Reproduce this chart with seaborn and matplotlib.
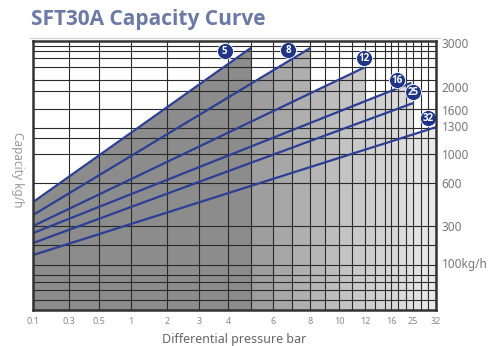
import numpy as np
import pandas as pd
import matplotlib
matplotlib.use("Agg")
import matplotlib.pyplot as plt
import matplotlib.transforms as mtransforms
import seaborn as sns

# capacity lines (one per valve size): value at 0.1 bar and at the max pressure
sizes = ["5", "8", "12", "16", "25", "32"]
max_pressure = [5, 8, 12, 24, 25, 32]
cap_start = [467, 377, 300, 262, 208, 143]
cap_end = [2886, 2886, 2455, 2091, 1722, 1289]

x_ticks = [0.1, 0.3, 0.5, 1, 2, 3, 4, 6, 8, 10, 12, 16, 25, 32]
x_labels = ["0.1", "0.3", "0.5", "1", "2", "3", "4", "6", "8", "10", "12", "16", "25", "32"]
x_minor = [5, 7, 9, 11, 13.5, 15, 19, 22, 27.5, 29.5]
y_ticks = [3000, 2000, 1600, 1300, 1000, 600, 300, 100]
y_labels = ["3000", "2000", "1600", "1300", "1000", "600", "300", "100kg/h"]
y_grid = [2930, 2820, 2660, 2450, 2160, 1930, 1620, 1280, 1170, 1000,
          600, 300, 200, 95, 75, 60, 43, 21]

# the chart's nonuniform axes (relative spacing of the printed grid)
x_nodes = [0.1, 0.3, 0.5, 1, 2, 3, 4, 6, 8, 10, 12, 16, 25, 32]
x_space = [0, 36, 66, 98, 134, 166, 195, 240, 277, 306, 332, 358, 380, 403]
y_nodes = [0, 100, 300, 600, 1000, 1300, 1600, 2000, 3000, 3045]
y_space = [0, 47, 84, 127, 156, 184, 200, 223, 267, 269]

LINE = "#2c3f96"
BADGE = "#1d348a"


def make_interp(xp, fp):
    xp = np.asarray(xp, float)
    fp = np.asarray(fp, float)
    s0 = (fp[1] - fp[0]) / (xp[1] - xp[0])
    s1 = (fp[-1] - fp[-2]) / (xp[-1] - xp[-2])

    def f(v):
        v = np.asarray(v, float)
        out = np.interp(v, xp, fp)
        out = np.where(v < xp[0], fp[0] + (v - xp[0]) * s0, out)
        out = np.where(v > xp[-1], fp[-1] + (v - xp[-1]) * s1, out)
        return out
    return f


fx, ix = make_interp(x_nodes, x_space), make_interp(x_space, x_nodes)
fy, iy = make_interp(y_nodes, y_space), make_interp(y_space, y_nodes)


def line_value(i, x):
    # lines are straight on the printed grid
    p0, p1 = fx(0.1), fx(max_pressure[i])
    q0, q1 = fy(cap_start[i]), fy(cap_end[i])
    return float(iy(q0 + (fx(x) - p0) / (p1 - p0) * (q1 - q0)))


df = pd.DataFrame({
    "pressure": [0.1] * len(sizes) + max_pressure,
    "capacity": cap_start + cap_end,
    "size": sizes * 2,
})

sns.set_style("white")
plt.rcParams["font.family"] = ["Noto Sans", "DejaVu Sans"]

fig = plt.figure(figsize=(5, 3.46), dpi=100)
ax = fig.add_axes([0.066, 0.104, 0.806, 0.777])
ax.set_xscale("function", functions=(fx, ix))
ax.set_yscale("function", functions=(fy, iy))

# gray shading under the envelope, getting lighter to the right
edges = sorted(set([0.1, 32] + x_ticks + x_minor + max_pressure))
p5, p32 = float(fx(5)), float(fx(32))
for a, b in zip(edges[:-1], edges[1:]):
    active = [i for i in range(len(sizes)) if max_pressure[i] >= b - 1e-9]
    if not active:
        continue
    i = active[0]
    mid = float(fx(a) + fx(b)) / 2
    g = 0.55 if mid < p5 else 0.60 + (mid - p5) / (p32 - p5) * 0.32
    ax.fill_between([a, b], [0, 0], [line_value(i, a), line_value(i, b)],
                    color=str(g), lw=0, zorder=1)

ax.vlines(x_ticks + x_minor, 0, 3045, color="#2a2a2a", lw=0.8, zorder=2)
ax.hlines(y_grid, 0.1, 32, color="#2a2a2a", lw=0.8, zorder=2)

sns.lineplot(data=df, x="pressure", y="capacity", hue="size",
             palette=[LINE] * len(sizes), legend=False, lw=1.6, ax=ax, zorder=3)

badge_off = [(-26, -3), (-22, -2), (-1, 9), (-14, 3), (0, 11), (-8, 9)]
for i, s in enumerate(sizes):
    tr = mtransforms.offset_copy(ax.transData, fig=fig, x=badge_off[i][0],
                                 y=badge_off[i][1], units="dots")
    ax.plot([max_pressure[i]], [cap_end[i]], "o", ms=11.5, mfc=BADGE, mec="white",
            mew=0.6, transform=tr, zorder=5, clip_on=False)
    ax.text(max_pressure[i], cap_end[i], s, transform=tr, ha="center",
            va="center", color="white", fontsize=7, fontweight="bold",
            family=["Open Sans", "DejaVu Sans"], zorder=6)

ax.set_xlim(0.1, 32)
ax.set_ylim(0, 3045)
ax.set_xticks(x_ticks, labels=x_labels)
ax.xaxis.set_minor_locator(matplotlib.ticker.NullLocator())
ax.yaxis.tick_right()
ax.set_yticks(y_ticks, labels=y_labels)
ax.yaxis.set_minor_locator(matplotlib.ticker.NullLocator())
ax.tick_params(axis="x", length=0, pad=5, labelsize=6.5, colors="#888888")
ax.tick_params(axis="y", length=0, pad=4, labelsize=8.5, colors="#777777")
ax.set_xlabel("Differential pressure bar", fontsize=9, color="#666666", labelpad=5)
ax.set_ylabel("")
for sp in ax.spines.values():
    sp.set_color("#333333")
    sp.set_linewidth(1.8)
    sp.set_zorder(7)

fig.text(0.034, 0.51, "Capacity kg/h", rotation=270, ha="center", va="center",
         fontsize=8.5, color="#999999")
fig.text(0.062, 0.944, "SFT30A Capacity Curve", ha="left", va="center",
         fontsize=15, fontweight="bold", color="#6a79a8",
         family=["Open Sans", "DejaVu Sans"])
fig.add_artist(plt.Line2D([0.06, 0.88], [0.889, 0.889], color="#cccccc", lw=0.8))

fig.savefig("out.png", dpi=100)
